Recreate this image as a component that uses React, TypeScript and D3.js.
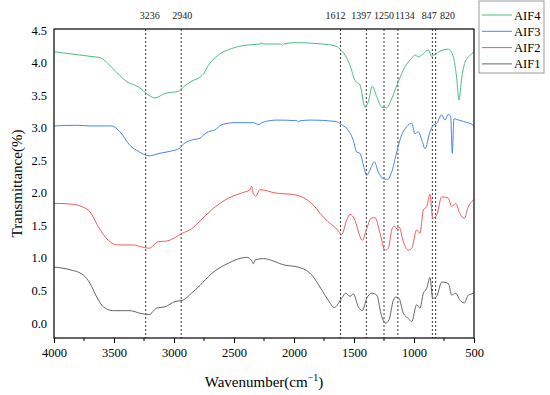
import { useEffect, useRef } from "react"
import * as d3 from "d3"

// [wavenumber, transmittance]
const AIF4: [number, number][] = [
  [4000, 4.17], [3867, 4.14], [3700, 4.1], [3617, 4.08], [3508, 3.91], [3394, 3.71], [3297, 3.63],
  [3208, 3.5], [3158, 3.46], [3075, 3.53], [3006, 3.55], [2964, 3.56], [2922, 3.63], [2850, 3.72],
  [2783, 3.78], [2750, 3.84], [2714, 3.96], [2631, 4.12], [2519, 4.22], [2408, 4.27], [2275, 4.29],
  [2269, 4.31], [2262, 4.29], [2110, 4.29], [2097, 4.27], [2085, 4.29], [1992, 4.31], [1769, 4.29],
  [1658, 4.26], [1617, 4.21], [1575, 4.12], [1533, 3.96], [1492, 3.73], [1450, 3.66], [1408, 3.32],
  [1381, 3.4], [1347, 3.64], [1311, 3.48], [1269, 3.32], [1228, 3.31], [1186, 3.45], [1131, 3.71],
  [1075, 3.94], [1019, 4.07], [992, 4.12], [964, 4.09], [922, 4.14], [881, 4.2], [853, 4.1],
  [825, 4.13], [783, 4.18], [714, 4.21], [672, 4.09], [644, 3.76], [625, 3.43], [603, 3.76],
  [575, 4.01], [540, 4.1], [506, 4.16], [500, 4.17],
]
const AIF3: [number, number][] = [
  [4000, 3.03], [3811, 3.04], [3700, 3.03], [3519, 3.03], [3450, 2.94], [3367, 2.73], [3297, 2.64],
  [3208, 2.57], [3117, 2.61], [3033, 2.64], [2950, 2.69], [2928, 2.74], [2839, 2.82], [2783, 2.84],
  [2756, 2.89], [2714, 2.94], [2658, 2.97], [2603, 3.05], [2492, 3.08], [2339, 3.08], [2292, 3.05],
  [2269, 3.08], [2144, 3.12], [1975, 3.11], [1964, 3.09], [1950, 3.11], [1853, 3.12], [1658, 3.1],
  [1603, 3.05], [1547, 2.96], [1506, 2.81], [1478, 2.63], [1450, 2.61], [1422, 2.43], [1394, 2.27],
  [1367, 2.35], [1331, 2.48], [1297, 2.32], [1256, 2.22], [1219, 2.21], [1186, 2.32], [1144, 2.63],
  [1103, 2.89], [1061, 3.02], [1019, 3.07], [992, 2.91], [964, 2.94], [931, 2.79], [908, 2.68],
  [867, 2.94], [839, 3.04], [811, 3.07], [769, 3.2], [742, 3.12], [714, 3.21], [694, 3.17],
  [681, 2.61], [667, 3.14], [644, 3.13], [589, 3.1], [506, 3.04], [500, 3.02],
]
const AIF2: [number, number][] = [
  [4000, 1.84], [3867, 1.83], [3756, 1.78], [3700, 1.71], [3631, 1.48], [3547, 1.27], [3464, 1.2],
  [3339, 1.2], [3269, 1.17], [3208, 1.15], [3131, 1.25], [3061, 1.26], [2931, 1.38], [2853, 1.45],
  [2783, 1.57], [2686, 1.74], [2547, 1.92], [2436, 2.0], [2367, 2.05], [2353, 2.1], [2339, 1.99],
  [2319, 1.95], [2283, 2.05], [2158, 2.0], [1992, 1.97], [1853, 1.84], [1756, 1.63], [1686, 1.51],
  [1640, 1.44], [1603, 1.36], [1561, 1.58], [1533, 1.67], [1492, 1.58], [1450, 1.33], [1431, 1.27],
  [1394, 1.45], [1358, 1.61], [1325, 1.62], [1283, 1.38], [1242, 1.12], [1214, 1.15], [1186, 1.43],
  [1164, 1.49], [1144, 1.45], [1125, 1.48], [1089, 1.25], [1047, 1.12], [1019, 1.15], [978, 1.43],
  [950, 1.38], [922, 1.74], [894, 1.79], [867, 1.98], [844, 1.61], [811, 1.66], [769, 1.94],
  [714, 1.92], [686, 1.79], [653, 1.84], [617, 1.68], [581, 1.61], [547, 1.79], [506, 1.89], [500, 1.9],
]
const AIF1: [number, number][] = [
  [4000, 0.86], [3867, 0.82], [3756, 0.74], [3700, 0.61], [3644, 0.4], [3589, 0.25], [3506, 0.19],
  [3367, 0.19], [3283, 0.15], [3208, 0.13], [3144, 0.23], [3075, 0.25], [2992, 0.33], [2928, 0.35],
  [2853, 0.46], [2783, 0.58], [2686, 0.76], [2547, 0.92], [2394, 1.01], [2353, 0.96], [2339, 0.91],
  [2325, 0.97], [2256, 0.99], [2075, 0.89], [1964, 0.86], [1853, 0.74], [1769, 0.51], [1714, 0.35],
  [1664, 0.24], [1603, 0.38], [1569, 0.46], [1533, 0.41], [1506, 0.45], [1464, 0.25], [1431, 0.19],
  [1394, 0.38], [1353, 0.46], [1311, 0.43], [1269, 0.1], [1236, 0.0], [1208, 0.05], [1172, 0.35],
  [1153, 0.4], [1125, 0.38], [1089, 0.15], [1047, 0.07], [1019, 0.02], [978, 0.28], [950, 0.23],
  [922, 0.46], [894, 0.53], [867, 0.7], [844, 0.38], [811, 0.41], [769, 0.63], [714, 0.61],
  [686, 0.43], [653, 0.46], [617, 0.35], [581, 0.31], [547, 0.43], [506, 0.46], [500, 0.47],
]

const seriesNames = ["AIF4", "AIF3", "AIF2", "AIF1"]
const seriesData = [AIF4, AIF3, AIF2, AIF1]
const seriesColors = ["#4fbb82", "#4a86e8", "#f45c5c", "#666666"]
const peakLines = [3236, 2940, 1612, 1397, 1250, 1134, 847, 820]
const xTicks = [4000, 3500, 3000, 2500, 2000, 1500, 1000, 500]
const yTicks = [0, 0.5, 1, 1.5, 2, 2.5, 3, 3.5, 4, 4.5]

// horizontal nudges so the crowded peak labels don't collide (px)
const labelNudge = [4, 1, -5, -5, 0, 7, -3, 12]

const FONT = "'Liberation Serif', 'Times New Roman', serif"

export default function App() {
  const svgRef = useRef<SVGSVGElement>(null)

  useEffect(() => {
    if (!svgRef.current) return
    const W = 550
    const H = 395
    const margin = { top: 29, right: 76, bottom: 57, left: 54 }
    const innerW = W - margin.left - margin.right
    const innerH = H - margin.top - margin.bottom

    const svg = d3.select(svgRef.current)
    svg.selectAll("*").remove()
    svg.attr("width", W).attr("height", H)

    const g = svg.append("g").attr("transform", `translate(${margin.left},${margin.top})`)

    const x = d3.scaleLinear().domain([4000, 500]).range([0, innerW])
    const y = d3.scaleLinear().domain([-0.23, 4.52]).range([innerH, 0])

    // Peak guide lines
    peakLines.forEach((p, i) => {
      g.append("line")
        .attr("x1", x(p))
        .attr("x2", x(p))
        .attr("y1", 0)
        .attr("y2", innerH)
        .attr("stroke", "#333")
        .attr("stroke-width", 1)
        .attr("stroke-dasharray", "2,2")
      g.append("text")
        .attr("x", x(p) + labelNudge[i])
        .attr("y", -10)
        .attr("text-anchor", "middle")
        .style("font-family", FONT)
        .style("font-size", "10px")
        .style("fill", "#222")
        .text(String(p))
    })

    // Curves
    const lineGen = d3
      .line<[number, number]>()
      .x((d) => x(d[0]))
      .y((d) => y(d[1]))
      .curve(d3.curveMonotoneX)

    seriesData.forEach((data, i) => {
      g.append("path")
        .datum(data)
        .attr("d", lineGen)
        .attr("fill", "none")
        .attr("stroke", seriesColors[i])
        .attr("stroke-width", 1)
    })

    // Frame
    g.append("rect")
      .attr("x", 0)
      .attr("y", 0)
      .attr("width", innerW)
      .attr("height", innerH)
      .attr("fill", "none")
      .attr("stroke", "#000")
      .attr("stroke-width", 1.2)

    // X axis
    const xAxis = g
      .append("g")
      .attr("transform", `translate(0,${innerH})`)
      .call(d3.axisBottom(x).tickValues(xTicks).tickSize(5).tickFormat(d3.format("d")))
    xAxis.select(".domain").remove()
    xAxis.selectAll("text").style("font-family", FONT).style("font-size", "12.5px").style("fill", "#000").attr("dy", "0.9em")
    xAxis.selectAll(".tick line").attr("stroke", "#000")

    const minor = d3.range(3750, 500, -500)
    g.append("g")
      .selectAll("line")
      .data(minor)
      .join("line")
      .attr("x1", (d) => x(d))
      .attr("x2", (d) => x(d))
      .attr("y1", innerH)
      .attr("y2", innerH + 3)
      .attr("stroke", "#000")

    // Y axis
    const yAxis = g.append("g").call(d3.axisLeft(y).tickValues(yTicks).tickSize(0).tickPadding(7).tickFormat(d3.format(".1f")))
    yAxis.select(".domain").remove()
    yAxis.selectAll("text").style("font-family", FONT).style("font-size", "12.5px").style("fill", "#000")

    // Axis titles
    svg
      .append("text")
      .attr("transform", `translate(22,${margin.top + innerH / 2}) rotate(-90)`)
      .attr("text-anchor", "middle")
      .style("font-family", FONT)
      .style("font-size", "15px")
      .text("Transmittance(%)")

    const xt = svg
      .append("text")
      .attr("x", margin.left + innerW / 2)
      .attr("y", 387)
      .attr("text-anchor", "middle")
      .style("font-family", FONT)
      .style("font-size", "15px")
    xt.append("tspan").text("Wavenumber(cm")
    xt.append("tspan").text("\u22121").attr("dy", -6).style("font-size", "10px")
    xt.append("tspan").text(")").attr("dy", 6)

    // Legend
    const legend = svg.append("g").attr("transform", "translate(479,1)")
    legend
      .append("rect")
      .attr("width", 65)
      .attr("height", 72)
      .attr("fill", "#fff")
      .attr("stroke", "#999")
      .attr("stroke-width", 1)
    seriesNames.forEach((name, i) => {
      const cy = 14 + i * 16.3
      legend
        .append("line")
        .attr("x1", 3)
        .attr("x2", 33)
        .attr("y1", cy)
        .attr("y2", cy)
        .attr("stroke", seriesColors[i])
        .attr("stroke-width", 1)
      legend
        .append("text")
        .attr("x", 35)
        .attr("y", cy + 4.5)
        .style("font-family", FONT)
        .style("font-size", "12.5px")
        .text(name)
    })
  }, [])

  return <svg ref={svgRef} style={{ position: "absolute", left: 0, top: 0 }} />
}
